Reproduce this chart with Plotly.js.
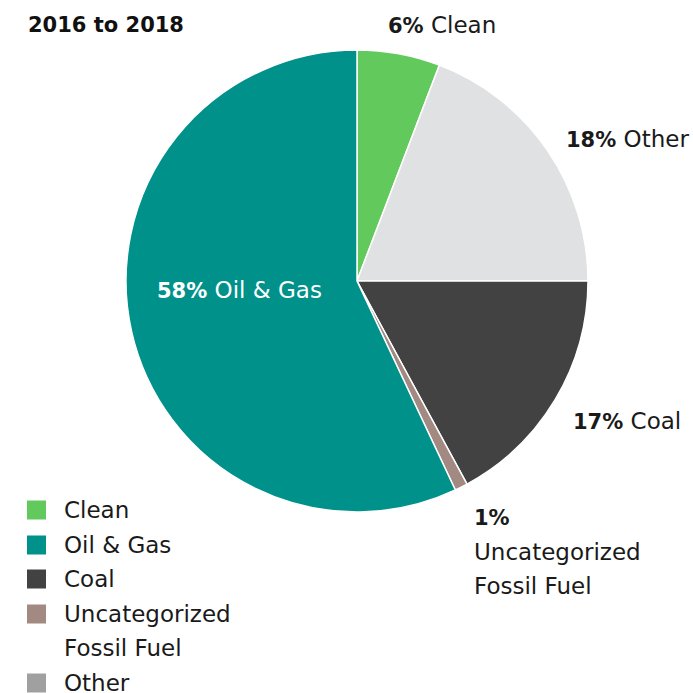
<!DOCTYPE html>
<html><head><meta charset="utf-8">
<script src="https://cdn.plot.ly/plotly-3.0.1.min.js"></script>
<style>html,body{margin:0;padding:0;background:#fff}#chart{width:693px;height:693px}</style>
</head><body><div id="chart"></div>
<script>
// Data (order around the pie, clockwise from 12 o'clock)
const categories = ["Clean", "Other", "Coal", "Uncategorized Fossil Fuel", "Oil & Gas"];
const shares = [5.8, 19.2, 17.1, 0.9, 57.0];
const sliceColors = ["#62c95d", "#e0e1e2", "#424242", "#a28a82", "#00918a"];
const pctLabels = ["6%", "18%", "17%", "1%", "58%"];
// Legend order
const legendNames = ["Clean", "Oil & Gas", "Coal", "Uncategorized<br>Fossil Fuel", "Other"];
const legendColors = ["#62c95d", "#00918a", "#424242", "#a28a82", "#a0a0a0"];
const chartTitle = "2016 to 2018";

const W = 693, H = 693;
const FONT = "DejaVu Sans";
const FS = 23;   // regular text
const FB = 21;   // bold text
const fx = x => x / W, fy = y => 1 - y / H;

const cx = 357, cy = 281, R = 231;
const trace = {
  type: "pie", labels: categories, values: shares, sort: false, direction: "clockwise",
  rotation: 0, marker: {colors: sliceColors, line: {color: "#ffffff", width: 1.5}},
  textinfo: "none", hoverinfo: "label+percent", showlegend: false,
  domain: {x: [fx(cx - R), fx(cx + R)], y: [fy(cy + R), fy(cy - R)]}
};

const B = t => '<span style="font-size:' + FB + 'px"><b>' + t + '</b></span>';

const ann = [];
function add(x, y, text, opts) {
  ann.push(Object.assign({xref: "paper", yref: "paper", x: fx(x - 2), y: fy(y), text: text,
    showarrow: false, xanchor: "left", yanchor: "middle",
    font: {family: FONT, size: FS, color: "#1a1a1a"}}, opts || {}));
}
add(28, 25, "<b>" + chartTitle + "</b>", {font: {family: FONT, size: FB, color: "#111"}});
add(388, 25, B(pctLabels[0]) + " " + categories[0]);
add(566, 139, B(pctLabels[1]) + " " + categories[1]);
add(573, 421, B(pctLabels[2]) + " " + categories[2]);
add(474, 518, "<b>" + pctLabels[3] + "</b>", {font: {family: FONT, size: FB, color: "#1a1a1a"}});
add(474, 552, "Uncategorized");
add(474, 586, "Fossil Fuel");
add(157, 290, B(pctLabels[4]) + " " + categories[4], {font: {family: FONT, size: FS, color: "#ffffff"}});

const shapes = [];
const legY = [510, 545, 579, 614, 683];
legendNames.forEach((n, i) => {
  shapes.push({type: "rect", xref: "paper", yref: "paper", x0: fx(27), x1: fx(46),
    y0: fy(legY[i] + 9.5), y1: fy(legY[i] - 9.5), fillcolor: legendColors[i], line: {width: 0}});
  const parts = n.split("<br>");
  parts.forEach((p, j) => add(64, legY[i] + j * 34, p));
});

Plotly.newPlot("chart", [trace], {
  width: W, height: H, margin: {l: 0, r: 0, t: 0, b: 0},
  paper_bgcolor: "#fff", showlegend: false, annotations: ann, shapes: shapes
}, {staticPlot: true});
</script></body></html>
